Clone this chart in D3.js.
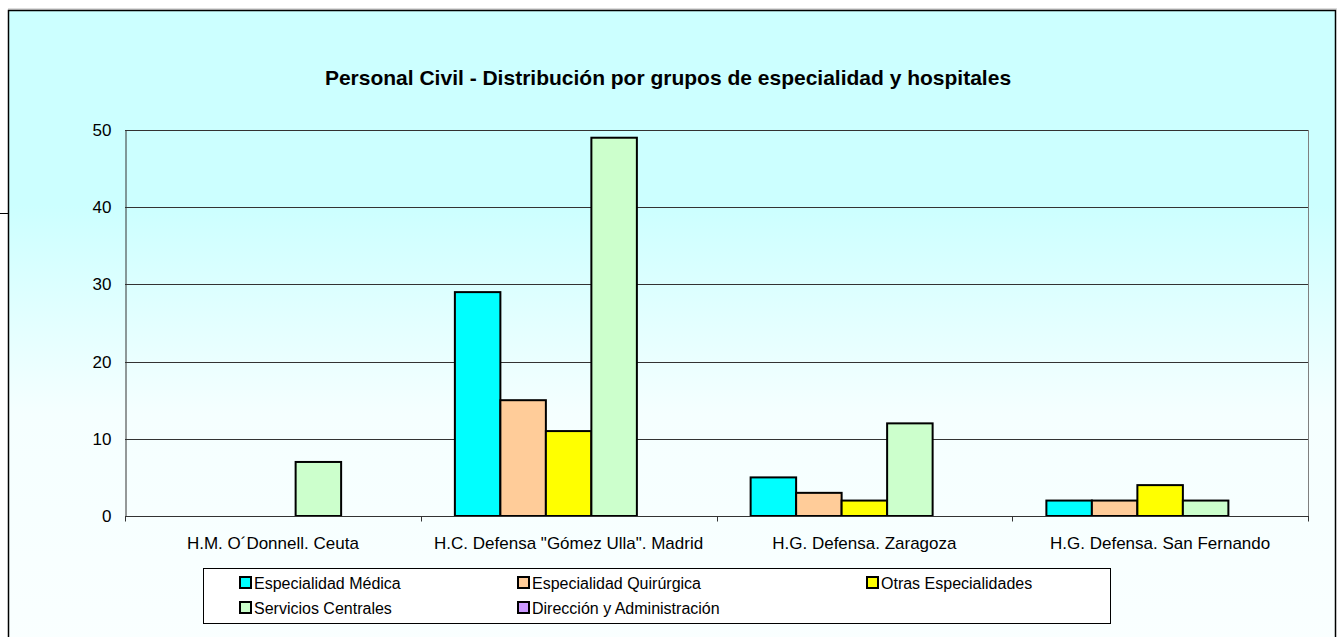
<!DOCTYPE html>
<html>
<head>
<meta charset="utf-8">
<script src="https://cdn.jsdelivr.net/npm/d3@7"></script>
<style>
  body { margin: 0; background: #fff; }
  svg { display: block; font-family: "Liberation Sans", Arial, sans-serif; }
</style>
</head>
<body>
<div id="chart"></div>
<script>
// données
var hospitales = ["H.M. O´Donnell. Ceuta", "H.C. Defensa \"Gómez Ulla\". Madrid", "H.G. Defensa. Zaragoza", "H.G. Defensa. San Fernando"];
var grupos = ["Especialidad Médica", "Especialidad Quirúrgica", "Otras Especialidades", "Servicios Centrales", "Dirección y Administración"];
var colores = ["#00FFFF", "#FFCC99", "#FFFF00", "#CCFFCC", "#CC99FF"];
var especialidadMedica = [0, 29, 5, 2];
var especialidadQuirurgica = [0, 15, 3, 2];
var otrasEspecialidades = [0, 11, 2, 4];
var serviciosCentrales = [7, 49, 12, 2];
var direccionAdministracion = [0, 0, 0, 0];
var yTicks = [0, 10, 20, 30, 40, 50];
var titulo = "Personal Civil - Distribución por grupos de especialidad y hospitales";

var series = [especialidadMedica, especialidadQuirurgica, otrasEspecialidades, serviciosCentrales, direccionAdministracion];

var totalWidth = 1339, totalHeight = 637,
    margin = {top: 130, left: 125},
    width = 1183, height = 386;

var svg = d3.select("#chart").append("svg")
    .attr("width", totalWidth)
    .attr("height", totalHeight);

// fond dégradé
var grad = svg.append("defs").append("linearGradient")
    .attr("id", "fond").attr("x1", 0).attr("y1", 0).attr("x2", 0).attr("y2", 1);
grad.append("stop").attr("offset", 0.3).attr("stop-color", "#CCFFFF");
grad.append("stop").attr("offset", 0.62).attr("stop-color", "#F5FFFF");
grad.append("stop").attr("offset", 1).attr("stop-color", "#FAFFFF");

svg.append("line").attr("x1", 8).attr("x2", 1337).attr("y1", 9).attr("y2", 9)
    .attr("stroke", "#bbb");
svg.append("rect")
    .attr("x", 8.5).attr("y", 10.5).attr("width", 1327).attr("height", 650)
    .attr("fill", "url(#fond)").attr("stroke", "#000").attr("stroke-width", 1.5);
svg.append("line").attr("x1", 0).attr("x2", 8).attr("y1", 213.5).attr("y2", 213.5)
    .attr("stroke", "#000");

// titre
svg.append("text")
    .attr("x", 668).attr("y", 85)
    .attr("text-anchor", "middle")
    .attr("font-weight", "bold").attr("font-size", 21)
    .text(titulo);

// échelles
var x0 = d3.scaleBand().domain(hospitales).range([0, width]),
    x1 = d3.scaleBand().domain(d3.range(grupos.length)).range([0, x0.bandwidth()])
        .paddingInner(0).paddingOuter(0.75),
    y = d3.scaleLinear().domain([0, 50]).range([height, 0]);

var g = svg.append("g").attr("transform", "translate(" + margin.left + "," + margin.top + ")");

// grille
g.selectAll(".grid").data(yTicks.slice(1)).enter().append("line")
    .attr("x1", 0).attr("x2", width)
    .attr("y1", function(d) { return Math.round(y(d)) + 0.5; })
    .attr("y2", function(d) { return Math.round(y(d)) + 0.5; })
    .attr("stroke", "#333").attr("stroke-width", 1);
g.append("line").attr("x1", width + 0.5).attr("x2", width + 0.5).attr("y1", 0).attr("y2", height)
    .attr("stroke", "#808080");

// barres
series.forEach(function(vals, s) {
    g.append("g").selectAll("rect")
        .data(vals.map(function(v, i) { return {h: hospitales[i], v: v}; }).filter(function(d) { return d.v > 0; }))
        .enter().append("rect")
        .attr("x", function(d) { return x0(d.h) + x1(s); })
        .attr("y", function(d) { return y(d.v); })
        .attr("width", x1.bandwidth())
        .attr("height", function(d) { return height - y(d.v); })
        .attr("fill", colores[s])
        .attr("stroke", "#000").attr("stroke-width", 2);
});

// axes
var yAxis = g.append("g").attr("transform", "translate(0.5,0)")
    .call(d3.axisLeft(y).tickValues(yTicks).tickSize(0).tickPadding(14));
yAxis.selectAll("text").attr("font-size", 17).attr("fill", "#000").attr("font-family", "Liberation Sans, Arial");
yAxis.select(".domain").attr("stroke", "#333");

var xAxis = g.append("g").attr("transform", "translate(0," + (height + 0.5) + ")");
xAxis.append("line").attr("x1", 0).attr("x2", width + 1).attr("stroke", "#333");
xAxis.selectAll(".tk").data(d3.range(hospitales.length + 1)).enter().append("line")
    .attr("x1", function(i) { return Math.round(i * x0.step()) + 0.5; })
    .attr("x2", function(i) { return Math.round(i * x0.step()) + 0.5; })
    .attr("y1", 0).attr("y2", 5).attr("stroke", "#333");
xAxis.selectAll(".lbl").data(hospitales).enter().append("text")
    .attr("x", function(d) { return x0(d) + x0.bandwidth() / 2; })
    .attr("y", 32)
    .attr("text-anchor", "middle").attr("font-size", 17)
    .text(function(d) { return d; });

// légende
var leg = svg.append("g");
leg.append("rect").attr("x", 203.5).attr("y", 568.5).attr("width", 907).attr("height", 55)
    .attr("fill", "#fff").attr("stroke", "#000");
var colX = [240, 518, 867];
grupos.forEach(function(nom, i) {
    var cx = colX[i % 3], cy = i < 3 ? 577 : 602;
    leg.append("rect").attr("x", cx).attr("y", cy).attr("width", 11).attr("height", 11)
        .attr("fill", colores[i]).attr("stroke", "#000").attr("stroke-width", 2);
    leg.append("text").attr("x", cx + 14).attr("y", cy + 12)
        .attr("font-size", 16).text(nom);
});
</script>
</body>
</html>
